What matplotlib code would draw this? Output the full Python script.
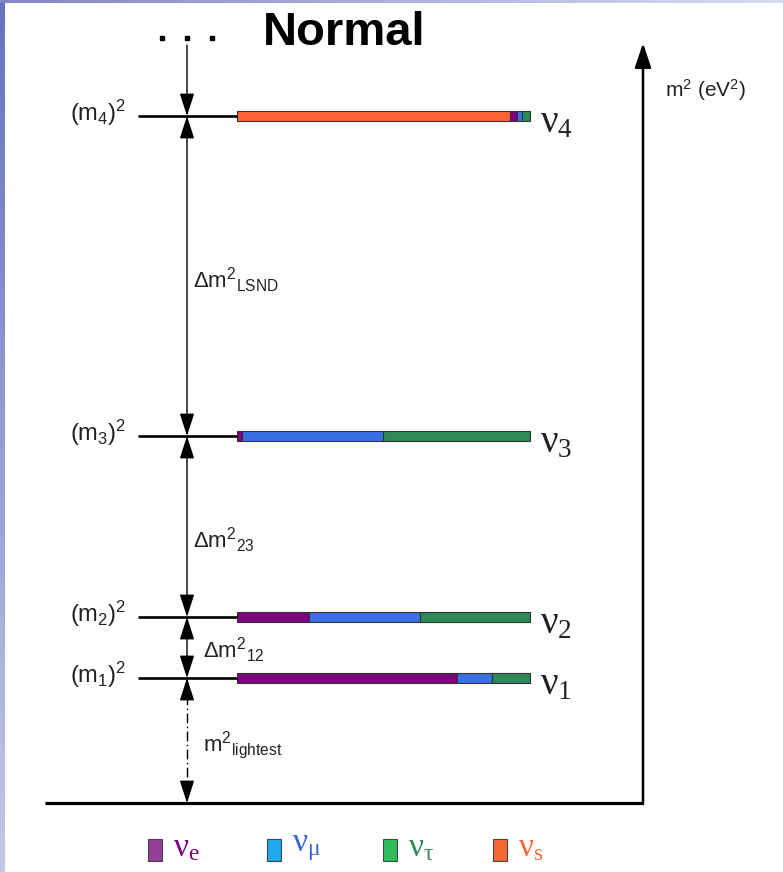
import matplotlib
matplotlib.use("Agg")
import matplotlib.pyplot as plt
import numpy as np
from matplotlib.patches import Rectangle

# configure matplotlib
matplotlib.rcParams['mathtext.fontset'] = 'custom'
matplotlib.rcParams['mathtext.rm'] = 'Liberation Sans'
matplotlib.rcParams['mathtext.it'] = 'Liberation Sans:italic'
matplotlib.rcParams['mathtext.bf'] = 'Liberation Sans:bold'
matplotlib.rcParams['font.family'] = ['Liberation Sans', 'DejaVu Sans']

# mass-squared levels (arbitrary units above the baseline)
states = ['1', '2', '3', '4']
levels = [125, 186, 367, 687]

# flavour content of each mass state, drawn in the order s, e, mu, tau
flavours = ['e', r'\mu', r'\tau', 's']
frac_e = [0.75, 0.245, 0.017, 0.022]
frac_mu = [0.12, 0.38, 0.48, 0.020]
frac_tau = [0.13, 0.375, 0.503, 0.026]
frac_s = [0.0, 0.0, 0.0, 0.932]

bar_colors = ['#800080', '#3a6fe6', '#2e8b57', '#ff6633']
legend_colors = ['#953f95', '#1ea8ee', '#2fbd5c', '#f26936']
text_colors = ['#800080', '#3565d8', '#2e8b57', '#ff6633']

gaps = [r'$\Delta\mathrm{m}^2{}_{\mathrm{12}}$',
        r'$\Delta\mathrm{m}^2{}_{\mathrm{23}}$',
        r'$\Delta\mathrm{m}^2{}_{\mathrm{LSND}}$']

fig = plt.figure(figsize=(7.83, 8.72), dpi=100)

# slide background strips
bg = fig.add_axes([0, 0, 1, 1])
bg.set_xlim(0, 783)
bg.set_ylim(872, 0)
bg.axis('off')
grad = np.linspace(0, 1, 256).reshape(-1, 1)
left = plt.cm.colors.LinearSegmentedColormap.from_list('l', ['#6672bd', '#c3c8e8'])
top = plt.cm.colors.LinearSegmentedColormap.from_list('t', ['#7f88c6', '#d8dcf0'])
bg.imshow(grad, cmap=left, extent=(0, 5, 872, 0), aspect='auto')
bg.imshow(grad.T, cmap=top, extent=(0, 783, 3, 0), aspect='auto')

ax = fig.add_axes([0, 0, 1, 1])
ax.set_xlim(0, 783)
ax.set_ylim(-69, 803)
ax.axis('off')
ax.patch.set_alpha(0)

x_arrow = 187
x_bar = 237
bar_len = 293

# baseline and vertical m^2 axis
ax.plot([45, 643], [0, 0], color='black', lw=2.3, solid_capstyle='butt')
ax.annotate('', xy=(643, 760), xytext=(643, -1),
            arrowprops=dict(arrowstyle='-|>,head_length=1.5,head_width=0.5',
                            color='black', lw=1.8, shrinkA=0, shrinkB=0))
ax.text(665, 713, r'm$^2$ (eV$^2$)', fontsize=15, va='center', color='#222222')

# levels, bars and labels
fracs = np.array([frac_e, frac_mu, frac_tau, frac_s])
order = [3, 0, 1, 2]
for i, lev in enumerate(levels):
    ax.plot([138, x_bar], [lev, lev], color='black', lw=1.9, solid_capstyle='butt')
    start = x_bar
    for j in order:
        w = fracs[j, i] * bar_len
        if w <= 0:
            continue
        ax.barh(lev, w, left=start, height=10, color=bar_colors[j],
                edgecolor='#333333', linewidth=0.8)
        start += w
    ax.text(126, lev + 3, '(m$_%s$)$^2$' % states[i], fontsize=17,
            ha='right', va='center', color='#222222')
    ax.text(540, lev - 7, r'$\mathregular{\nu_%s}$' % states[i], fontsize=28,
            ha='left', va='center', family='Liberation Serif',
            math_fontfamily='stix', color='#222222')

head = dict(arrowstyle='<|-|>,head_length=1.4,head_width=0.45',
            color='black', lw=1.0, shrinkA=0, shrinkB=0)
# top arrow into the heaviest level
ax.annotate('', xy=(x_arrow, levels[3]), xytext=(x_arrow, 758),
            arrowprops=dict(arrowstyle='-|>,head_length=1.4,head_width=0.45',
                            color='black', lw=1.0, shrinkA=0, shrinkB=0))
for i in range(3):
    ax.annotate('', xy=(x_arrow, levels[i + 1]), xytext=(x_arrow, levels[i]),
                arrowprops=head)

# dashed arrow for the lightest mass
ax.plot([x_arrow, x_arrow], [8, levels[0] - 8], color='black', lw=1.0,
        linestyle=(0, (7, 2.5, 1, 2.5)))
one = dict(arrowstyle='-|>,head_length=1.4,head_width=0.45',
           color='black', lw=1.0, shrinkA=0, shrinkB=0)
ax.annotate('', xy=(x_arrow, 0), xytext=(x_arrow, 16), arrowprops=one)
ax.annotate('', xy=(x_arrow, levels[0]), xytext=(x_arrow, levels[0] - 16),
            arrowprops=one)

# gap labels
ax.text(193, 523, gaps[2], fontsize=16, va='center', color='#222222')
ax.text(193, 263, gaps[1], fontsize=16, va='center', color='#222222')
ax.text(203, 153, gaps[0], fontsize=16, va='center', color='#222222')
ax.text(203, 58, r'm$^2{}_{\mathrm{lightest}}$', fontsize=16, va='center',
        color='#222222')

# title with ellipsis
ax.plot([162, 187, 212], [765, 765, 765], 's', color='black', ms=3.5)
ax.text(263, 770, 'Normal', fontsize=34, fontweight='bold', va='center')

# flavour legend
sq_x = [148, 267, 383, 493]
for j in range(4):
    ax.add_patch(Rectangle((sq_x[j], -58), 14, 22, facecolor=legend_colors[j],
                           edgecolor='#444444', linewidth=0.8))
    ax.text(sq_x[j] + 25, -45, r'$\mathregular{\nu_{%s}}$' % flavours[j],
            fontsize=24, va='center', color=text_colors[j],
            family='Liberation Serif', math_fontfamily='stix')

fig.savefig('out.png', dpi=100)
